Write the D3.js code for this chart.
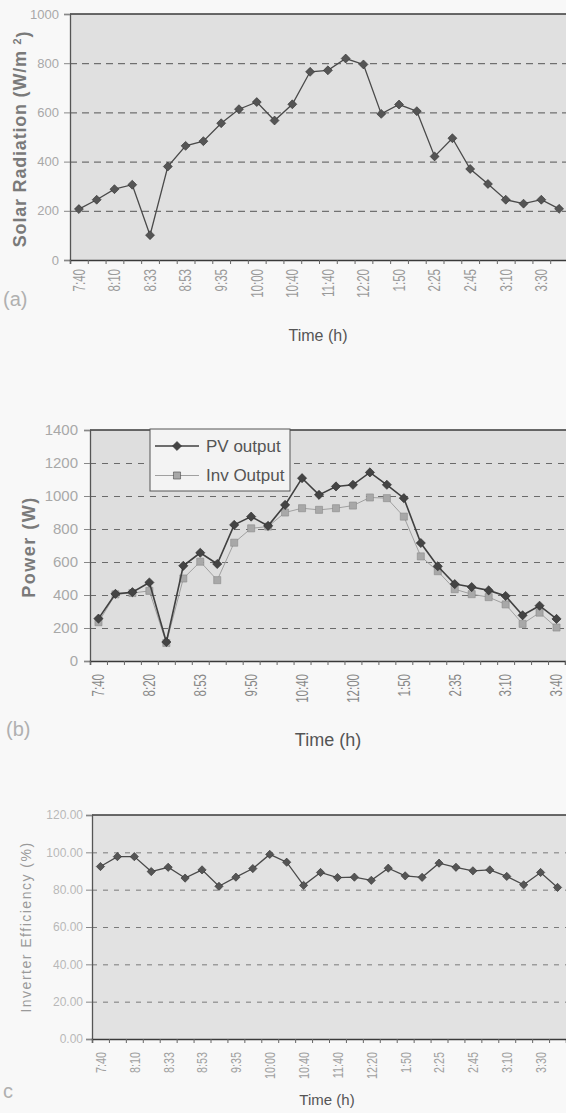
<!DOCTYPE html>
<html lang="en">
<head>
<meta charset="UTF-8">
<title>Solar radiation, PV power and inverter efficiency</title>
<script src="https://d3js.org/d3.v7.min.js"></script>
<style>
  body { margin: 0; background: #f8f8f8; }
  svg { display: block; font-family: "Liberation Sans", Arial, sans-serif; }
</style>
</head>
<body>
<svg width="566" height="1113"></svg>
<script>
// sampling times (only some of them are printed on the axes)
const times = ["7:40", "7:55", "8:10", "8:20", "8:33", "8:43", "8:53", "9:20", "9:35", "9:50",
               "10:00", "10:20", "10:40", "11:10", "11:40", "12:00", "12:20", "1:00", "1:50", "2:10",
               "2:25", "2:35", "2:45", "3:00", "3:10", "3:20", "3:30", "3:40"];
const labelsA = ["7:40", "8:10", "8:33", "8:53", "9:35", "10:00", "10:40", "11:40", "12:20", "1:50", "2:25", "2:45", "3:10", "3:30"];
const labelsB = ["7:40", "8:20", "8:53", "9:50", "10:40", "12:00", "1:50", "2:35", "3:10", "3:40"];
const labelsC = labelsA;

// (a) solar radiation, W/m2
const radiation = [207, 245, 288, 306, 101, 380, 464, 483, 556, 613, 642, 567, 633, 765,
                   771, 819, 795, 594, 632, 605, 421, 495, 370, 309, 245, 229, 245, 208];
// (b) power, W
const pvOutput = [257, 407, 417, 476, 115, 577, 656, 588, 825, 875, 819, 946, 1108, 1007,
                  1058, 1068, 1143, 1068, 987, 715, 574, 466, 448, 428, 394, 277, 335, 255];
const invOutput = [235, 404, 412, 425, 109, 500, 602, 490, 717, 804, 815, 900, 926, 916,
                   926, 942, 991, 987, 875, 634, 544, 435, 405, 387, 343, 225, 293, 203];
// (c) inverter efficiency, %
const efficiency = [92.4, 97.7, 97.7, 89.7, 92.0, 86.2, 90.6, 81.8, 86.7, 91.3, 98.9, 94.7, 82.3, 89.2,
                    86.5, 86.7, 85.0, 91.5, 87.4, 86.6, 94.2, 92.0, 90.1, 90.6, 87.1, 82.6, 89.2, 81.2];

const svg = d3.select("svg");

function drawPanel(p) {
    const x = d3.scaleBand().domain(times).range([p.left, p.right]);
    const xi = d3.scaleLinear().domain([0, times.length]).range([p.left, p.right]);
    const y = d3.scaleLinear().domain([0, p.yMax]).range([p.bottom, p.top]);
    const cx = i => x(times[i]) + x.bandwidth() / 2;
    const g = svg.append("g");

    // plot area
    g.append("rect")
        .attr("x", p.left).attr("y", p.top)
        .attr("width", p.right - p.left + 4).attr("height", p.bottom - p.top)
        .attr("fill", p.bg);

    // dashed gridlines
    const grid = g.append("g")
        .attr("transform", `translate(${p.left},0)`)
        .call(d3.axisLeft(y).tickValues(p.yTicks.slice(1, -1)).tickSize(-(p.right - p.left + 4)).tickFormat(""));
    grid.select(".domain").remove();
    grid.selectAll("line")
        .attr("stroke", p.gridColor)
        .attr("stroke-width", 1)
        .attr("stroke-dasharray", p.gridDash);

    // top border
    g.append("line")
        .attr("x1", p.left).attr("x2", p.right + 4)
        .attr("y1", y(p.yMax)).attr("y2", y(p.yMax))
        .attr("stroke", "#3a3a3a").attr("stroke-width", 1.5);

    // y axis
    const ya = g.append("g")
        .attr("transform", `translate(${p.left},0)`)
        .call(d3.axisLeft(y).tickValues(p.yTicks).tickSize(6).tickPadding(p.yPad).tickFormat(p.yFormat));
    ya.select(".domain").attr("stroke", "#555").attr("stroke-width", 1.3);
    ya.selectAll("line").attr("stroke", "#888");
    ya.selectAll("text")
        .attr("fill", p.tickColor)
        .style("font-size", p.yFont + "px");

    // x axis: ticks on category boundaries
    const xa = g.append("g")
        .attr("transform", `translate(0,${p.bottom})`)
        .call(d3.axisBottom(xi).tickValues(d3.range(times.length + 1)).tickSize(4).tickFormat(""));
    xa.select(".domain").attr("stroke", "#3a3a3a").attr("stroke-width", 1.5);
    xa.selectAll("line").attr("stroke", "#666");

    // x axis: rotated labels
    const xl = g.append("g")
        .attr("transform", `translate(0,${p.bottom})`)
        .call(d3.axisBottom(x).tickValues(p.labels).tickSize(0));
    xl.select(".domain").remove();
    xl.selectAll("text")
        .attr("x", -p.xPad / 0.72).attr("y", 0).attr("dy", "0.36em")
        .attr("text-anchor", "end")
        .attr("transform", "rotate(-90) scale(0.72,1)")
        .attr("fill", p.xColor)
        .style("font-size", p.xFont + "px");

    // series
    p.series.forEach(s => {
        const line = d3.line().x((d, i) => cx(i)).y(d => y(d));
        g.append("path")
            .datum(s.values)
            .attr("fill", "none")
            .attr("stroke", s.stroke)
            .attr("stroke-width", s.width)
            .attr("d", line);
        g.append("g").selectAll("path")
            .data(s.values)
            .join("path")
            .attr("d", d3.symbol(d3.symbolSquare, s.size))
            .attr("transform", (d, i) => `translate(${cx(i)},${y(d)}) rotate(${s.rotate})`)
            .attr("fill", s.fill)
            .attr("stroke", s.markStroke)
            .attr("stroke-width", 0.6);
    });

    // titles
    const yt = g.append("text")
        .attr("transform", `translate(${p.yTitleX},${p.yTitleY}) rotate(-90)`)
        .attr("text-anchor", "middle")
        .attr("fill", p.yTitleColor)
        .style("font-size", p.yTitleFont + "px")
        .style("font-weight", p.yTitleWeight)
        .style("letter-spacing", p.yTitleSpacing + "px");
    yt.append("tspan").text(p.yTitle);
    if (p.yTitleSup) {
        yt.append("tspan").attr("dy", "-0.45em").style("font-size", "0.6em").text(p.yTitleSup);
        yt.append("tspan").attr("dy", "0.45em").text(")");
    }

    g.append("text")
        .attr("x", p.xTitleX).attr("y", p.xTitleY)
        .attr("text-anchor", "middle")
        .attr("fill", "#555")
        .style("font-size", p.xTitleFont + "px")
        .text("Time (h)");

    g.append("text")
        .attr("x", p.tagX).attr("y", p.tagY)
        .attr("fill", "#b0b0b0")
        .style("font-size", "20px")
        .text(p.tag);

    return { x, y, g };
}

// (a)
drawPanel({
    left: 70, right: 568, top: 14, bottom: 260,
    yMax: 1000, yTicks: [0, 200, 400, 600, 800, 1000], yFormat: d3.format("d"),
    yPad: 5, yFont: 13, tickColor: "#a8a8a8",
    bg: "#e0e0e0", gridColor: "#555", gridDash: "7,5",
    labels: labelsA, xPad: 9, xFont: 16, xColor: "#9a9a9a",
    series: [{ values: radiation, stroke: "#4a4a4a", width: 1.3, fill: "#555", markStroke: "#333", size: 40, rotate: 45 }],
    yTitle: "Solar Radiation (W/m ", yTitleSup: "2", yTitleX: 26, yTitleY: 139,
    yTitleFont: 18, yTitleWeight: "bold", yTitleSpacing: 0.8, yTitleColor: "#7a7a7a",
    xTitleX: 318, xTitleY: 341, xTitleFont: 16,
    tag: "(a)", tagX: 3, tagY: 306
});

// (b)
const pb = drawPanel({
    left: 90, right: 565, top: 430, bottom: 661,
    yMax: 1400, yTicks: [0, 200, 400, 600, 800, 1000, 1200, 1400], yFormat: d3.format("d"),
    yPad: 6, yFont: 15, tickColor: "#a8a8a8",
    bg: "#dedede", gridColor: "#6a6a6a", gridDash: "6,6",
    labels: labelsB, xPad: 13, xFont: 16, xColor: "#888",
    series: [
        { values: invOutput, stroke: "#a0a0a0", width: 1, fill: "#a8a8a8", markStroke: "#8a8a8a", size: 50, rotate: 0 },
        { values: pvOutput, stroke: "#404040", width: 1.6, fill: "#444", markStroke: "#2a2a2a", size: 42, rotate: 45 }
    ],
    yTitle: "Power (W)", yTitleX: 35, yTitleY: 547,
    yTitleFont: 18, yTitleWeight: "bold", yTitleSpacing: 1.5, yTitleColor: "#7a7a7a",
    xTitleX: 328, xTitleY: 746, xTitleFont: 18,
    tag: "(b)", tagX: 6, tagY: 736
});

// legend of (b)
const leg = pb.g.append("g");
leg.append("rect")
    .attr("x", 150).attr("y", 429).attr("width", 140).attr("height", 62)
    .attr("fill", "#f3f3f3").attr("stroke", "#555").attr("stroke-width", 1);
const legendItems = [
    { name: "PV output", stroke: "#404040", width: 1.6, fill: "#444", size: 42, rotate: 45 },
    { name: "Inv Output", stroke: "#a0a0a0", width: 1, fill: "#a8a8a8", size: 50, rotate: 0 }
];
leg.selectAll("g.item")
    .data(legendItems)
    .join("g")
    .attr("class", "item")
    .attr("transform", (d, i) => `translate(0,${446 + i * 29.5})`)
    .each(function (d) {
        const it = d3.select(this);
        it.append("line").attr("x1", 155).attr("x2", 199).attr("y1", 0).attr("y2", 0)
            .attr("stroke", d.stroke).attr("stroke-width", d.width);
        it.append("path").attr("d", d3.symbol(d3.symbolSquare, d.size))
            .attr("transform", `translate(177,0) rotate(${d.rotate})`)
            .attr("fill", d.fill).attr("stroke", "#333").attr("stroke-width", 0.5);
        it.append("text").attr("x", 206).attr("y", 0).attr("dy", "0.35em")
            .attr("fill", "#555").style("font-size", "17px").text(d.name);
    });

// (c)
drawPanel({
    left: 92, right: 566, top: 815, bottom: 1039,
    yMax: 120, yTicks: [0, 20, 40, 60, 80, 100, 120], yFormat: d3.format(".2f"),
    yPad: 3, yFont: 12, tickColor: "#b8b8b8",
    bg: "#e2e2e2", gridColor: "#7a7a7a", gridDash: "5,6",
    labels: labelsC, xPad: 13, xFont: 15, xColor: "#a0a0a0",
    series: [{ values: efficiency, stroke: "#4a4a4a", width: 1.3, fill: "#555", markStroke: "#333", size: 34, rotate: 45 }],
    yTitle: "Inverter Efficiency (%)", yTitleX: 31, yTitleY: 927,
    yTitleFont: 14, yTitleWeight: "normal", yTitleSpacing: 1.5, yTitleColor: "#9a9a9a",
    xTitleX: 327, xTitleY: 1105, xTitleFont: 15,
    tag: "c", tagX: 3, tagY: 1098
});
</script>
</body>
</html>
